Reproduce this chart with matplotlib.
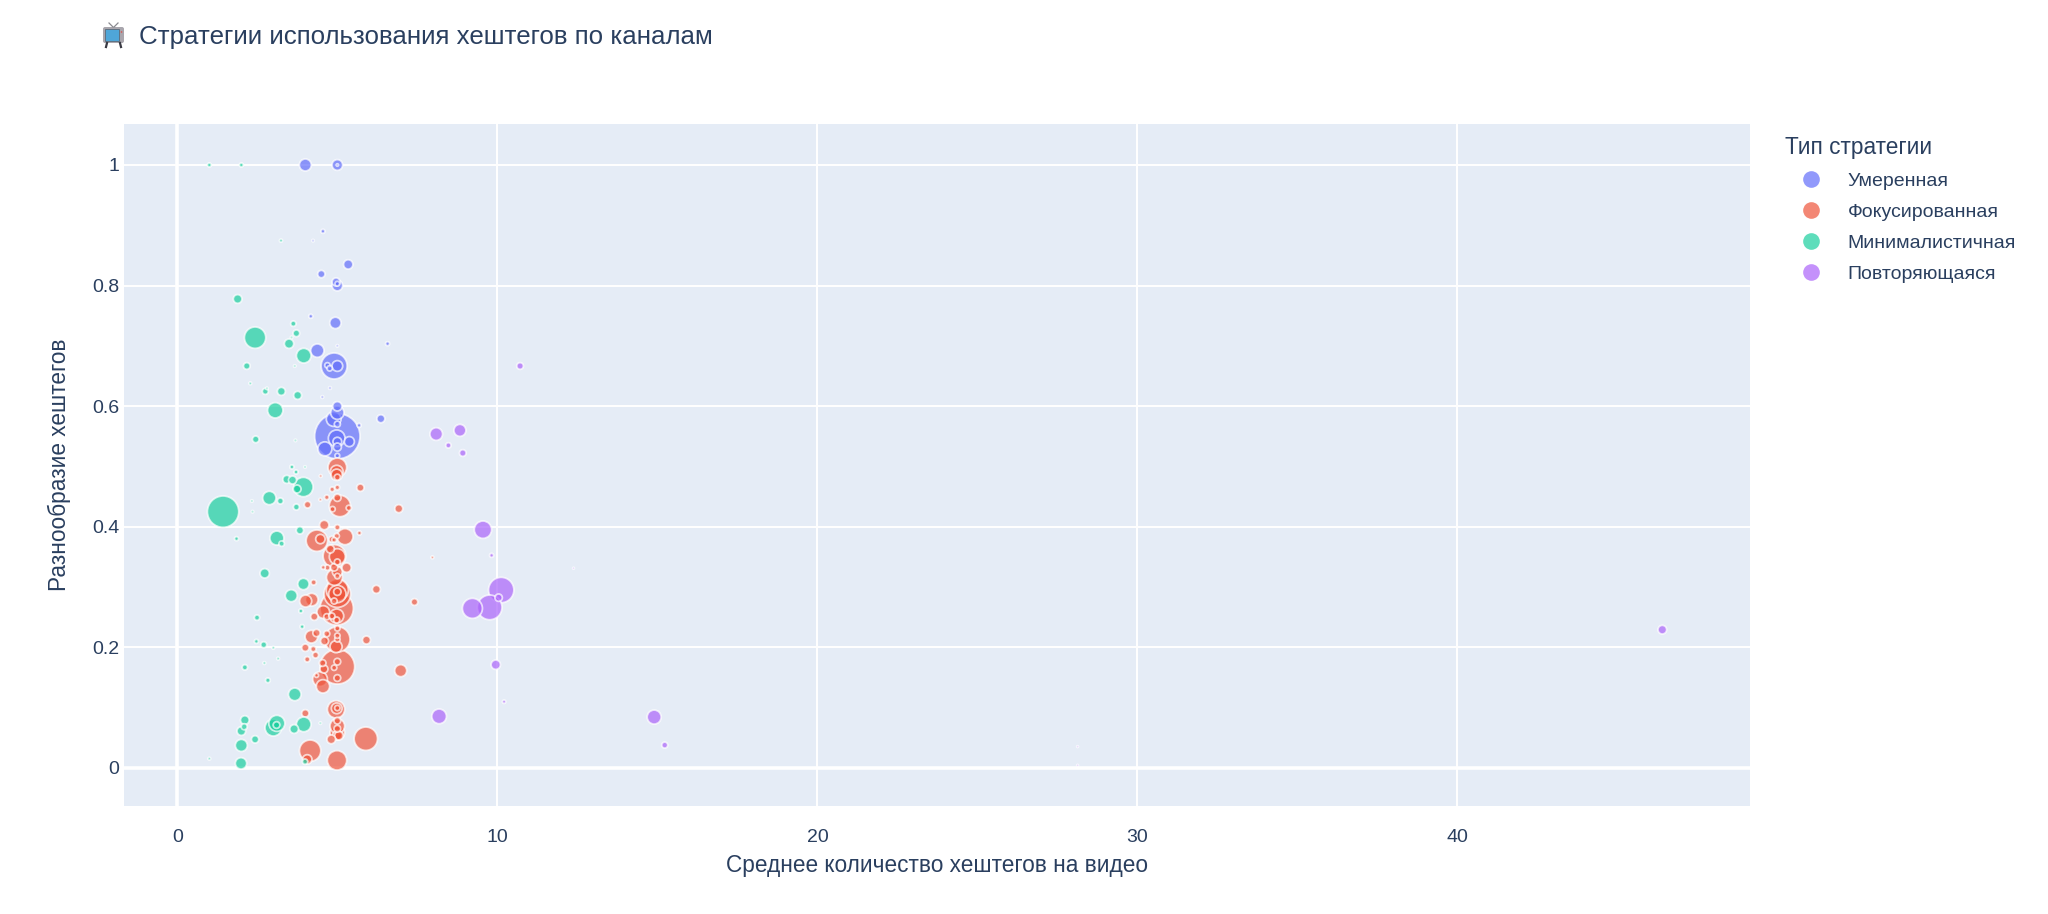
import numpy as np
import matplotlib
matplotlib.use("Agg")
import matplotlib.pyplot as plt
from matplotlib.lines import Line2D
from matplotlib.patches import Circle, FancyBboxPatch, Rectangle

plt.rcParams["font.family"] = ["Liberation Sans", "DejaVu Sans"]

TEXT = "#2a3f5f"
labels = ["Умеренная", "Фокусированная", "Минималистичная", "Повторяющаяся"]
colors = ["#636EFA", "#EF553B", "#1ACF9E", "#AB63FA"]

# x = среднее кол-во хештегов, y = разнообразие, size = размер пузырька
moderate_x = [4.0, 5.0, 5.0, 4.55, 5.34, 4.5, 4.96, 5.0, 5.0, 4.17, 4.94, 6.57, 4.375, 4.9, 5.0, 4.69, 4.76, 5.0, 4.77,
              4.53, 5.0, 5.0, 4.885, 6.36, 5.0, 5.68, 5.0, 4.98, 5.0, 5.0, 5.375, 4.61, 5.0, 4.24]
moderate_y = [1.0, 1.0, 1.0, 0.89, 0.835, 0.819, 0.806, 0.80, 0.803, 0.749, 0.738, 0.7035, 0.692, 0.6665, 0.6665, 0.6676,
              0.6626, 0.70, 0.63, 0.615, 0.5996, 0.589, 0.5785, 0.579, 0.57, 0.568, 0.55, 0.5465, 0.541, 0.532, 0.541,
              0.529, 0.5177, 0.8745]
moderate_size = [32, 28, 3, 8, 24, 18, 20, 28, 10, 8, 30, 8, 36, 74, 28, 12, 12, 3, 4, 4, 24, 36, 40, 20, 14, 8, 132, 46,
                 22, 20, 26, 38, 10, 3]

focused_x = [5.0, 4.98, 4.98, 5.0, 4.48, 5.72, 4.84, 5.0, 4.67, 5.0, 4.47, 5.08, 4.85, 5.36, 4.07, 6.92, 4.59, 5.0, 5.69,
             4.36, 4.47, 5.24, 4.98, 4.83, 4.9, 4.78, 4.91, 5.0, 5.29, 4.69, 5.0, 4.9, 5.0, 4.91, 5.0, 4.56, 7.97, 4.26,
             6.22, 5.0, 5.0, 5.0, 5.0, 4.9, 4.2, 4.01, 7.41, 4.98, 4.56, 4.98, 4.67, 4.83, 4.98, 4.28, 5.0, 5.0, 5.0, 5.0,
             4.35, 4.19, 4.67, 4.6, 4.96, 5.91, 4.0, 4.25, 4.32, 4.06, 5.0, 5.0, 4.9, 5.0, 4.54, 4.58, 6.98, 4.46, 4.35,
             4.55, 4.96, 4.98, 5.0, 4.0, 5.0, 5.0, 5.0, 5.0, 5.0, 5.05, 4.81, 5.89, 4.15, 4.06, 4.99]
focused_y = [0.4983, 0.4912, 0.486, 0.482, 0.484, 0.4646, 0.4618, 0.465, 0.4486, 0.448, 0.4447, 0.4342, 0.429, 0.431,
             0.4364, 0.4298, 0.4027, 0.3988, 0.3894, 0.3767, 0.3794, 0.3833, 0.3844, 0.3789, 0.378, 0.3628, 0.3512, 0.3501,
             0.3319, 0.3319, 0.3413, 0.3324, 0.3252, 0.3158, 0.318, 0.3324, 0.349, 0.3075, 0.2959, 0.2948, 0.2882, 0.2882,
             0.292, 0.2765, 0.2788, 0.2765, 0.2749, 0.2644, 0.2583, 0.2517, 0.2506, 0.2517, 0.245, 0.2506, 0.2312, 0.2129,
             0.219, 0.2129, 0.2235, 0.2174, 0.2223, 0.2102, 0.2008, 0.2118, 0.1991, 0.1969, 0.1869, 0.1798, 0.1676, 0.1759,
             0.1659, 0.1488, 0.1737, 0.1637, 0.161, 0.1471, 0.1532, 0.135, 0.0968, 0.0985, 0.099, 0.0902, 0.078, 0.0691,
             0.0647, 0.0581, 0.0537, 0.0532, 0.047, 0.0481, 0.0282, 0.0138, 0.0122]
focused_size = [52, 34, 30, 14, 4, 18, 10, 10, 10, 18, 4, 60, 12, 12, 16, 20, 24, 12, 8, 60, 24, 44, 12, 14, 10, 20, 64, 44,
                24, 12, 14, 18, 26, 44, 12, 8, 4, 12, 20, 62, 76, 48, 18, 14, 34, 32, 16, 96, 34, 38, 14, 14, 14, 18, 12, 72,
                12, 12, 18, 34, 14, 20, 32, 20, 18, 12, 14, 12, 100, 16, 12, 16, 16, 20, 32, 40, 8, 36, 48, 28, 12, 18, 16,
                40, 16, 40, 24, 22, 22, 66, 60, 24, 54]

minimal_x = [1.0, 2.0, 3.24, 1.885, 3.625, 3.72, 3.57, 2.43, 3.49, 3.95, 2.17, 3.67, 2.28, 2.75, 2.8, 3.25, 3.76, 3.06, 2.45,
             3.69, 3.58, 3.99, 3.71, 3.42, 3.6, 3.94, 3.74, 2.875, 3.22, 3.72, 2.33, 2.35, 1.43, 3.83, 1.85, 3.11, 3.26,
             2.73, 3.94, 3.56, 3.86, 2.49, 3.9, 2.47, 2.7, 3.0, 3.15, 2.72, 2.11, 2.83, 3.67, 2.11, 2.09, 2.0, 3.11, 3.0,
             3.1, 3.65, 3.95, 2.43, 2.0, 1.0, 1.99, 3.99, 4.47]
minimal_y = [1.0, 1.0, 0.8745, 0.7777, 0.7367, 0.7207, 0.714, 0.7135, 0.7035, 0.6836, 0.6665, 0.6665, 0.6377, 0.6244, 0.6294,
             0.6244, 0.6178, 0.593, 0.5448, 0.543, 0.499, 0.499, 0.4906, 0.4784, 0.4773, 0.4657, 0.4624, 0.4475, 0.4425,
             0.4325, 0.4425, 0.4248, 0.4248, 0.3938, 0.38, 0.381, 0.3717, 0.3225, 0.3048, 0.2854, 0.26, 0.249, 0.234, 0.2096,
             0.204, 0.199, 0.181, 0.1737, 0.1665, 0.145, 0.1217, 0.079, 0.068, 0.0608, 0.0736, 0.0664, 0.0708, 0.0642,
             0.0719, 0.047, 0.037, 0.015, 0.0072, 0.01, 0.074]
minimal_size = [8, 8, 5, 22, 12, 16, 3, 60, 24, 40, 16, 3, 4, 14, 3, 20, 20, 42, 16, 3, 8, 3, 8, 20, 20, 54, 20, 36, 14, 14, 3,
                3, 90, 18, 8, 38, 12, 24, 30, 32, 8, 12, 8, 8, 14, 4, 4, 4, 12, 10, 34, 22, 14, 22, 44, 46, 16, 22, 40,
                18, 32, 4, 30, 12, 3]

repeat_x = [10.71, 8.09, 8.83, 8.47, 8.92, 9.55, 9.82, 10.12, 10.04, 9.76, 9.22, 9.95, 10.21, 8.18, 14.9, 15.23, 46.4, 12.38,
            28.13, 28.13]
repeat_y = [0.6665, 0.5536, 0.5597, 0.5348, 0.5221, 0.3949, 0.3523, 0.2948, 0.2821, 0.266, 0.2644, 0.1709, 0.1095, 0.0852,
            0.084, 0.0375, 0.229, 0.331, 0.035, 0.004]
repeat_size = [16, 34, 32, 12, 16, 48, 8, 72, 18, 70, 56, 24, 6, 40, 38, 14, 22, 1, 1, 1]

series = [
    (moderate_x, moderate_y, moderate_size),
    (focused_x, focused_y, focused_size),
    (minimal_x, minimal_y, minimal_size),
    (repeat_x, repeat_y, repeat_size),
]

W, H = 2048, 914
fig = plt.figure(figsize=(W / 100, H / 100), dpi=100, facecolor="white")
ax = fig.add_axes([124 / W, 1 - 805.5 / H, (1750 - 124) / W, (805.5 - 124) / H])
ax.set_facecolor("#E5ECF6")
for sp in ax.spines.values():
    sp.set_visible(False)

ax.set_xlim(-1.666, 49.14)
ax.set_ylim(-0.0627, 1.068)
ax.set_xticks([0, 10, 20, 30, 40])
ax.set_yticks([0, 0.2, 0.4, 0.6, 0.8, 1])
ax.set_yticklabels(["0", "0.2", "0.4", "0.6", "0.8", "1"])
ax.tick_params(length=0, labelsize=14, labelcolor=TEXT)
ax.tick_params(axis="x", pad=17)
ax.tick_params(axis="y", pad=3.5)
ax.grid(color="white", lw=1.4)
ax.set_axisbelow(True)
ax.axvline(0, color="white", lw=2.6, zorder=1)
ax.axhline(0, color="white", lw=2.6, zorder=1)

EDGE = 1.3
for (xs, ys, sizes), color in zip(series, colors):
    xs, ys, sizes = np.array(xs), np.array(ys), np.array(sizes, dtype=float)
    # большие снизу, мелкие сверху
    order = np.argsort(-sizes)
    diam = sizes / 3 * 0.72 + 1.0
    ax.scatter(xs[order], ys[order], s=diam[order] ** 2, color=color, alpha=0.7,
               edgecolors="white", linewidths=EDGE, zorder=3)

ax.set_xlabel("Среднее количество хештегов на видео", fontsize=16.3, color=TEXT, labelpad=5.8)
ax.set_ylabel("Разнообразие хештегов", fontsize=16.3, color=TEXT, labelpad=15)

handles = [Line2D([], [], ls="none", marker="o", ms=12, color=c, alpha=0.7, mew=0) for c in colors]
leg = ax.legend(handles, labels, title="Тип стратегии", loc="upper left", bbox_to_anchor=(1 + 35 / 1626, 1 - 11.6 / 681),
                frameon=False, fontsize=14, title_fontsize=16.3, labelspacing=0.69, handlelength=2.68,
                handletextpad=0.55, borderaxespad=0, borderpad=0)
leg._legend_box.align = "left"
leg.get_title().set_color(TEXT)
for t in leg.get_texts():
    t.set_color(TEXT)

fig.text(139 / W, 1 - 37 / H, "Стратегии использования хештегов по каналам", fontsize=18.6, color=TEXT, va="center")

# значок телевизора вместо эмодзи, в шрифтах его нет
icon = fig.add_axes([100 / W, 1 - 50 / H, 28 / W, 30 / H])
icon.set_xlim(0, 28)
icon.set_ylim(30, 0)
icon.axis("off")
icon.plot([9, 13], [3, 7], color="#8a8a90", lw=0.9)
icon.plot([18, 14], [3, 7], color="#8a8a90", lw=0.9)
icon.add_patch(FancyBboxPatch((3, 7), 21, 16, boxstyle="round,pad=0,rounding_size=2", fc="#a9a6ad", ec="none"))
icon.add_patch(Rectangle((5, 9), 14, 12, fc="#4fa6d8", ec="#5a6a78", lw=0.6))
icon.add_patch(Circle((21.5, 12), 0.8, fc="#d9534f", ec="none"))
icon.plot([7, 6], [23, 27], color="#3a3a44", lw=1.6)
icon.plot([20, 21], [23, 27], color="#3a3a44", lw=1.6)

fig.savefig("out.png", dpi=100, facecolor="white")
